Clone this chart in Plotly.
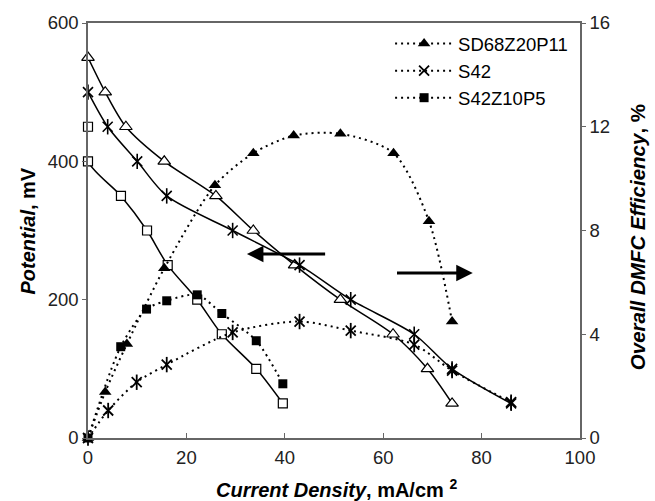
import plotly.graph_objects as go

# ---- data ----
# Potential curves (left axis, mV)
sd_pot_x = [0, 3.5, 7.7, 15.5, 26, 33.6, 42, 51.3, 62, 69, 74]
sd_pot_y = [550, 500, 450, 400, 350, 300, 250, 200, 150, 100, 50]

s42_pot_x = [0, 4, 10, 16, 29.4, 43, 53.4, 66.3, 74, 86]
s42_pot_y = [500, 450, 400, 350, 300, 250, 200, 150, 100, 50]

sz_pot_x = [0, 0, 6.7, 12, 16.2, 22.2, 27.2, 34.2, 39.6]
sz_pot_y = [450, 400, 350, 300, 250, 200, 150, 100, 50]

# Efficiency curves (right axis, %)
sd_eff_x = [0, 3.5, 7.9, 15.5, 25.8, 33.6, 41.8, 51.3, 62.1, 69.3, 74]
sd_eff_y = [0, 1.77, 3.62, 6.54, 9.74, 10.98, 11.66, 11.73, 10.98, 8.36, 4.49]

s42_eff_x = [0, 4.1, 9.9, 16, 29.4, 43, 53.4, 66.3, 74, 86]
s42_eff_y = [0, 1.06, 2.15, 2.83, 4.07, 4.49, 4.14, 3.6, 2.6, 1.38]

sz_eff_x = [0, 6.65, 11.9, 16, 22.2, 27.2, 34.2, 39.6]
sz_eff_y = [0, 3.52, 4.97, 5.29, 5.52, 4.8, 3.75, 2.09]

names = ["SD68Z20P11", "S42", "S42Z10P5"]

x_ticks = [0, 20, 40, 60, 80, 100]
y_ticks = [0, 200, 400, 600]
y2_ticks = [0, 4, 8, 12, 16]

# arrows (data coords: [tail_x, head_x, y_mV])
arrow_left = [48.5, 32.3, 266]
arrow_right = [62.5, 78.2, 238.6]

FONT = "Liberation Sans, Arial, sans-serif"
BLACK = "#000000"
AXC = "#666666"

fig = go.Figure()

solid = dict(color=BLACK, width=1.5, shape="spline", smoothing=0.8)
dotted = dict(color=BLACK, width=2, dash="2px,4px", shape="spline", smoothing=0.8)

# potential traces (solid, open markers with white fill)
fig.add_trace(go.Scatter(x=sd_pot_x, y=sd_pot_y, mode="lines+markers", line=solid,
                         marker=dict(symbol="triangle-up", size=11, color="white",
                                     line=dict(color=BLACK, width=1.2)),
                         showlegend=False, cliponaxis=False))
fig.add_trace(go.Scatter(x=s42_pot_x, y=s42_pot_y, mode="lines+markers", line=solid,
                         marker=dict(symbol="x-thin-open", size=10, color=BLACK,
                                     line=dict(color=BLACK, width=1.6)),
                         showlegend=False, cliponaxis=False))
fig.add_trace(go.Scatter(x=s42_pot_x, y=s42_pot_y, mode="markers",
                         marker=dict(symbol="line-ns-open", size=11, color=BLACK,
                                     line=dict(color=BLACK, width=1.6)),
                         showlegend=False, cliponaxis=False))
fig.add_trace(go.Scatter(x=sz_pot_x, y=sz_pot_y, mode="lines+markers", line=solid,
                         marker=dict(symbol="square", size=9, color="white",
                                     line=dict(color=BLACK, width=1.2)),
                         showlegend=False, cliponaxis=False))

# efficiency traces (dotted, filled markers) on right axis
fig.add_trace(go.Scatter(x=sd_eff_x, y=sd_eff_y, name=names[0], yaxis="y2",
                         mode="lines+markers", line=dotted,
                         marker=dict(symbol="triangle-up", size=11, color=BLACK),
                         cliponaxis=False))
fig.add_trace(go.Scatter(x=s42_eff_x, y=s42_eff_y, name=names[1], yaxis="y2",
                         mode="lines+markers", line=dotted,
                         marker=dict(symbol="x-thin-open", size=10, color=BLACK,
                                     line=dict(color=BLACK, width=1.8)),
                         cliponaxis=False))
fig.add_trace(go.Scatter(x=s42_eff_x, y=s42_eff_y, yaxis="y2", mode="markers",
                         marker=dict(symbol="line-ns-open", size=11, color=BLACK,
                                     line=dict(color=BLACK, width=1.8)),
                         showlegend=False, cliponaxis=False))
fig.add_trace(go.Scatter(x=sz_eff_x, y=sz_eff_y, name=names[2], yaxis="y2",
                         mode="lines+markers", line=dotted,
                         marker=dict(symbol="square", size=9, color=BLACK),
                         cliponaxis=False))

annotations = []
for a in (arrow_left, arrow_right):
    annotations.append(dict(x=a[1], y=a[2], ax=a[0], ay=a[2], xref="x", yref="y",
                            axref="x", ayref="y", showarrow=True, arrowhead=2,
                            arrowsize=1.1, arrowwidth=3, arrowcolor=BLACK, text=""))

annotations += [
    dict(text="<b><i>Current Density</i>, mA/cm <sup>2</sup></b>", xref="paper", yref="paper",
         x=0.506, y=-0.121, showarrow=False, xanchor="center", yanchor="middle",
         font=dict(family=FONT, size=20, color=BLACK)),
    dict(text="<b><i>Potential</i>, mV</b>", xref="paper", yref="paper",
         x=-0.122, y=0.50, showarrow=False, textangle=-90, xanchor="center", yanchor="middle",
         font=dict(family=FONT, size=20, color=BLACK)),
    dict(text="<b><i>Overall DMFC Efficiency</i>, %</b>", xref="paper", yref="paper",
         x=1.116, y=0.484, showarrow=False, textangle=-90, xanchor="center", yanchor="middle",
         font=dict(family=FONT, size=20.5, color=BLACK)),
]

tickfont = dict(family=FONT, size=18.5, color="#222222")

fig.update_layout(
    width=655, height=501,
    margin=dict(l=88, r=75, t=21, b=63),
    paper_bgcolor="white", plot_bgcolor="white",
    font=dict(family=FONT, size=18.5, color=BLACK),
    xaxis=dict(range=[0, 100], tickvals=x_ticks, ticks="inside", ticklen=5,
               tickcolor=AXC, showline=True, linecolor=AXC, linewidth=1.5, mirror=True,
               showgrid=False, zeroline=False, tickfont=tickfont, ticklabelstandoff=2),
    yaxis=dict(range=[0, 600], tickvals=y_ticks, ticks="outside", ticklen=4,
               tickcolor=AXC, showline=True, linecolor=AXC, linewidth=1.5, mirror=True,
               showgrid=False, zeroline=False, tickfont=tickfont),
    yaxis2=dict(range=[0, 16], tickvals=y2_ticks, ticks="outside", ticklen=4,
                tickcolor=AXC, showline=True, linecolor=AXC, linewidth=1.5,
                overlaying="y", side="right", showgrid=False, zeroline=False,
                tickfont=tickfont),
    legend=dict(x=0.614, y=0.995, xanchor="left", yanchor="top", bgcolor="rgba(0,0,0,0)",
                borderwidth=0, itemwidth=58, font=dict(family=FONT, size=18.5, color=BLACK),
                tracegroupgap=0),
    annotations=annotations,
)

fig.write_html("out.html")
